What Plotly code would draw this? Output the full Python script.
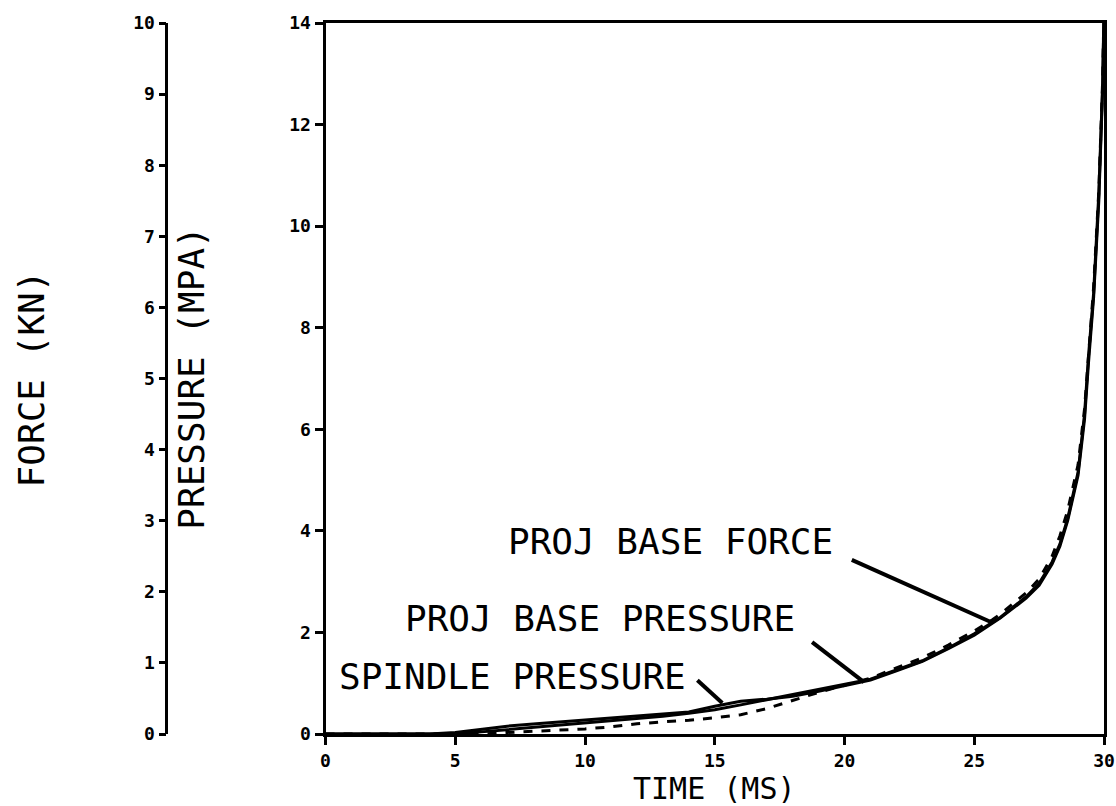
import plotly.graph_objects as go

# ---- data -------------------------------------------------------------
# time (ms)
time_spindle = [0, 2, 4, 5, 6, 7, 8, 9, 10, 11, 12, 13, 14, 15, 16, 17, 18, 19, 20,
                21, 22, 23, 24, 25, 26, 27, 27.5, 28, 28.3, 28.6, 29.0, 29.25, 29.4,
                29.6, 29.8, 29.95, 30.0]
# spindle pressure (MPa)
spindle_pressure = [0, 0, 0, 0.02, 0.07, 0.11, 0.14, 0.17, 0.20, 0.22, 0.25, 0.28, 0.31,
                    0.39, 0.46, 0.49, 0.53, 0.60, 0.68, 0.76, 0.89, 1.02, 1.20, 1.39, 1.63,
                    1.91, 2.09, 2.39, 2.64, 3.00, 3.64, 4.43, 5.21, 6.14, 7.50, 9.10, 10.15]

time_base = [0, 3, 5, 6, 7, 8, 9, 10, 11, 12, 13, 14, 15, 16, 17, 18, 19, 20, 21, 22,
             23, 24, 25, 26, 27, 27.5, 28, 28.3, 28.6, 29.0, 29.25, 29.4, 29.6, 29.8,
             29.95, 30.0]
# projectile base pressure (MPa)
base_pressure = [0, 0, 0, 0.03, 0.06, 0.09, 0.12, 0.15, 0.18, 0.21, 0.25, 0.29, 0.34,
                 0.41, 0.48, 0.55, 0.63, 0.70, 0.77, 0.90, 1.03, 1.21, 1.41, 1.64, 1.93,
                 2.12, 2.42, 2.67, 3.03, 3.68, 4.50, 5.30, 6.20, 7.60, 9.15, 10.20]

time_force = [0, 3, 6, 7, 8, 9, 10, 11, 12, 13, 14, 15, 16, 17, 18, 19, 20, 21, 22, 23,
              24, 25, 25.7, 26, 27, 27.5, 28, 28.3, 28.6, 29.0, 29.25, 29.4, 29.6, 29.8,
              29.95, 30.0]
# projectile base force (kN)
base_force = [0, 0, 0, 0.03, 0.05, 0.07, 0.10, 0.14, 0.20, 0.24, 0.27, 0.32, 0.38, 0.50,
              0.66, 0.82, 0.96, 1.10, 1.30, 1.50, 1.75, 2.03, 2.25, 2.36, 2.78, 3.05, 3.50,
              3.90, 4.40, 5.30, 6.40, 7.50, 8.80, 10.70, 12.90, 14.30]

# labels with leader lines: text anchor (right end) and leader tail/tip (time, kN scale)
label_texts = ["PROJ BASE FORCE", "PROJ BASE PRESSURE", "SPINDLE PRESSURE"]
label_x = [19.63, 18.17, 13.95]
label_y = [3.80, 2.28, 1.14]
leader_x0 = [20.28, 18.75, 14.33]
leader_y0 = [3.43, 1.81, 1.06]
leader_x1 = [25.66, 20.75, 15.29]
leader_y1 = [2.20, 1.02, 0.61]

x_ticks = [0, 5, 10, 15, 20, 25, 30]
force_ticks = [0, 2, 4, 6, 8, 10, 12, 14]
pressure_ticks = [0, 1, 2, 3, 4, 5, 6, 7, 8, 9, 10]

# ---- figure ----------------------------------------------------------
W, H = 1116, 806
ML, MR, MT, MB = 0, 12, 23, 72
plot_w = W - ML - MR
plot_h = H - MT - MB
x_left_px = 322
free_axis_px = 162

MONO = "DejaVu Sans Mono"
tickfont = dict(family=MONO, size=18, color="black", weight="bold")
textfont = dict(family=MONO, size=36, color="black")

fig = go.Figure()
fig.add_trace(go.Scatter(x=time_force, y=base_force, mode="lines", yaxis="y",
                         line=dict(color="black", width=3, dash="dash"),
                         name="PROJ BASE FORCE"))
fig.add_trace(go.Scatter(x=time_base, y=base_pressure, mode="lines", yaxis="y2",
                         line=dict(color="black", width=3),
                         name="PROJ BASE PRESSURE"))
fig.add_trace(go.Scatter(x=time_spindle, y=spindle_pressure, mode="lines", yaxis="y2",
                         line=dict(color="black", width=3),
                         name="SPINDLE PRESSURE"))

for i, txt in enumerate(label_texts):
    fig.add_annotation(x=label_x[i], y=label_y[i], xref="x", yref="y", text=txt,
                       showarrow=False, xanchor="right", yanchor="middle",
                       font=textfont)
    fig.add_shape(type="line", xref="x", yref="y",
                  x0=leader_x0[i], y0=leader_y0[i], x1=leader_x1[i], y1=leader_y1[i],
                  line=dict(color="black", width=4))

# axis titles
fig.add_annotation(x=27 / plot_w, y=0.5, xref="paper", yref="paper", text="FORCE (KN)",
                   textangle=-90, showarrow=False, font=textfont,
                   xanchor="center", yanchor="middle")
fig.add_annotation(x=187 / plot_w, y=0.5, xref="paper", yref="paper", text="PRESSURE (MPA)",
                   textangle=-90, showarrow=False, font=textfont,
                   xanchor="center", yanchor="middle")
fig.add_annotation(x=15, y=(734 - 788) / plot_h, xref="x", yref="paper", text="TIME (MS)",
                   showarrow=False, font=dict(family=MONO, size=30, color="black"),
                   xanchor="center", yanchor="middle", borderpad=0)

fig.update_layout(
    width=W, height=H,
    margin=dict(l=ML, r=MR, t=MT, b=MB),
    paper_bgcolor="white", plot_bgcolor="white",
    showlegend=False,
    xaxis=dict(domain=[x_left_px / plot_w, 1.0], range=[0, 30], tickvals=x_ticks,
               ticktext=[str(v) for v in x_ticks],
               ticks="outside", ticklen=8, tickwidth=2.5, tickcolor="black",
               showline=True, linewidth=3, linecolor="black", mirror=True,
               showgrid=False, zeroline=False, tickfont=tickfont),
    yaxis=dict(domain=[0, 1], range=[0, 14], tickvals=force_ticks,
               ticks="outside", ticklen=8, tickwidth=2.5, tickcolor="black",
               showline=True, linewidth=3, linecolor="black", mirror=True,
               showgrid=False, zeroline=False, tickfont=tickfont),
    yaxis2=dict(range=[0, 10], tickvals=pressure_ticks, overlaying="y",
                anchor="free", position=free_axis_px / plot_w, side="left",
                ticks="outside", ticklen=7, tickwidth=2.5, tickcolor="black",
                showline=True, linewidth=2.5, linecolor="black",
                showgrid=False, zeroline=False, tickfont=tickfont),
)

fig.write_html(
    "out.html",
    config={"displayModeBar": False},
    post_script="document.body.style.margin='0';document.body.style.overflow='hidden';",
)
